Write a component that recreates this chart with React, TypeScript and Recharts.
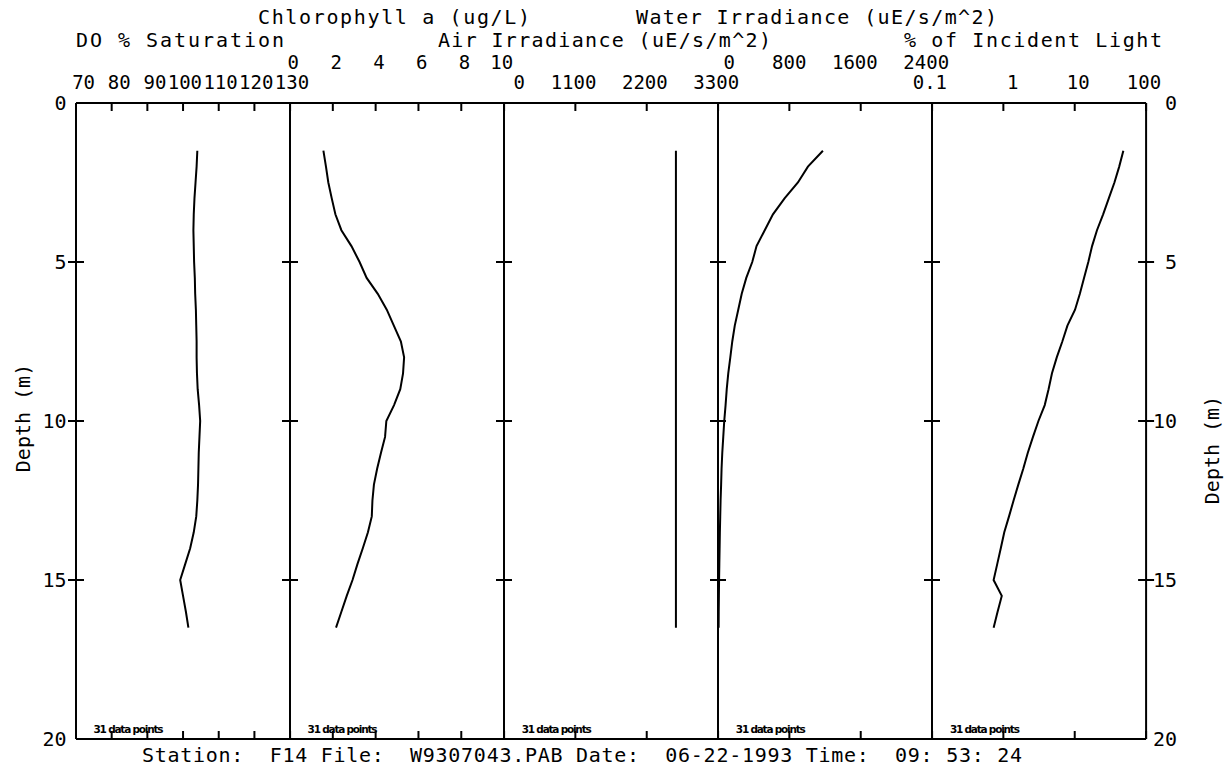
import React from "react";
import { LineChart, Line, XAxis, YAxis } from "recharts";

// profile depths (m), 31 samples
const depths = [1.5, 2, 2.5, 3, 3.5, 4, 4.5, 5, 5.5, 6, 6.5, 7, 7.5, 8, 8.5, 9, 9.5, 10, 10.5, 11, 11.5, 12, 12.5, 13, 13.5, 14, 14.5, 15, 15.5, 16, 16.5];

const doSaturation = [104.0, 103.8, 103.5, 103.2, 103.0, 102.9, 103.0, 103.1, 103.3, 103.4, 103.6, 103.7, 103.8, 103.8, 103.9, 104.1, 104.5, 104.8, 104.6, 104.4, 104.3, 104.2, 104.0, 103.7, 103.0, 102.0, 100.6, 99.2, 100.0, 100.8, 101.5];
const chlorophyll = [1.56, 1.68, 1.79, 1.95, 2.12, 2.4, 2.87, 3.25, 3.58, 4.1, 4.52, 4.85, 5.18, 5.33, 5.28, 5.15, 4.86, 4.5, 4.44, 4.25, 4.07, 3.92, 3.85, 3.82, 3.64, 3.4, 3.15, 2.92, 2.65, 2.4, 2.15];
const airIrradiance = [2650, 2650, 2650, 2650, 2650, 2650, 2650, 2650, 2650, 2650, 2650, 2650, 2650, 2650, 2650, 2650, 2650, 2650, 2650, 2650, 2650, 2650, 2650, 2650, 2650, 2650, 2650, 2650, 2650, 2650, 2650];
const waterIrradiance = [1176, 1008, 896, 746, 616, 524, 432, 384, 317, 266, 227, 188, 160, 138, 115, 98, 85, 70, 59, 48, 40, 35, 29, 25, 21, 18, 15, 12, 10, 8, 7];
const incidentLight = [48, 42, 36, 30, 25, 20.5, 17.5, 15.5, 13.5, 11.8, 10.1, 7.9, 6.7, 5.6, 4.8, 4.3, 3.8, 3.1, 2.6, 2.2, 1.9, 1.62, 1.39, 1.2, 1.03, 0.92, 0.82, 0.73, 0.95, 0.83, 0.73];

const doTicks = [70, 80, 90, 100, 110, 120, 130];
const chlTicks = [0, 2, 4, 6, 8, 10];
const airTicks = [0, 1100, 2200, 3300];
const waterTicks = [0, 800, 1600, 2400];
const lightTicks = [0.1, 1, 10, 100];
const depthTicks = [0, 5, 10, 15, 20];
const innerDepthTicks = [5, 10, 15];

const rows = depths.map((depth, i) => ({
  depth,
  doSat: doSaturation[i],
  chl: chlorophyll[i],
  air: airIrradiance[i],
  water: waterIrradiance[i],
  light: incidentLight[i],
}));

const FONT = "'DejaVu Sans Mono', monospace";
const LEFT = 75.5;
const PW = 214.1;
const H = 765;
const TOP = 103;
const BOTTOM = 26;

const panels = [
  { key: "doSat", ticks: doTicks, scale: "auto", dx: 19, ly: 89 },
  { key: "chl", ticks: chlTicks, scale: "auto", dx: 9, ly: 69 },
  { key: "air", ticks: airTicks, scale: "auto", dx: 21, ly: 89 },
  { key: "water", ticks: waterTicks, scale: "auto", dx: 17, ly: 69 },
  { key: "light", ticks: lightTicks, scale: "log", dx: 15, ly: 89 },
];

const TopTick = (props: any) => {
  const { x, y, payload, dx, ly } = props;
  return (
    <g>
      <line x1={x} y1={y} x2={x} y2={y + 8} stroke="#000" strokeWidth={2} />
      <text x={x + dx} y={ly} textAnchor="end" fontFamily={FONT} fontSize={19} fill="#000">
        {String(payload.value)}
      </text>
    </g>
  );
};

const BottomTick = (props: any) => {
  const { x, y } = props;
  return <line x1={x} y1={y} x2={x} y2={y - 8} stroke="#000" strokeWidth={2} />;
};

const DepthTick = (props: any) => {
  const { x, y, payload, side } = props;
  const v = payload.value;
  const mark = v > 0 && v < 20;
  return (
    <g>
      {mark && <line x1={x - 8} y1={y} x2={x + 8} y2={y} stroke="#000" strokeWidth={2} />}
      {side === "left" && (
        <text x={x - 9.5} y={y + 7.5} textAnchor="end" fontFamily={FONT} fontSize={20} fill="#000">
          {String(v)}
        </text>
      )}
      {side === "right" && (
        <text x={x + 31} y={y + 7} textAnchor="end" fontFamily={FONT} fontSize={20} fill="#000">
          {String(v)}
        </text>
      )}
    </g>
  );
};

function Panel({ index }: { index: number }) {
  const cfg = panels[index];
  const first = index === 0;
  const last = index === panels.length - 1;
  const domain = [cfg.ticks[0], cfg.ticks[cfg.ticks.length - 1]];
  const frame = { stroke: "#000", strokeWidth: 2 };
  // axes need a size of at least 1px to be drawn, so the chart is shifted by that pixel
  return (
    <div style={{ position: "absolute", left: LEFT + index * PW - 1, top: 0 }}>
      <LineChart
        width={PW + 1 + (last ? 1 : 0)}
        height={H}
        data={rows}
        layout="vertical"
        margin={{ top: TOP - 1, right: 0, bottom: BOTTOM - 1, left: 0 }}
      >
        <XAxis
          xAxisId="top"
          orientation="top"
          type="number"
          scale={cfg.scale as any}
          domain={domain}
          ticks={cfg.ticks}
          interval={0}
          height={1}
          tickSize={0}
          tickMargin={0}
          allowDataOverflow
          axisLine={frame}
          tickLine={false}
          tick={(p: any) => <TopTick {...p} dx={cfg.dx} ly={cfg.ly} />}
        />
        <XAxis
          xAxisId="bot"
          orientation="bottom"
          type="number"
          scale={cfg.scale as any}
          domain={domain}
          ticks={cfg.ticks}
          interval={0}
          height={1}
          tickSize={0}
          tickMargin={0}
          allowDataOverflow
          axisLine={frame}
          tickLine={false}
          tick={(p: any) => <BottomTick {...p} />}
        />
        <YAxis
          yAxisId="d"
          type="number"
          dataKey="depth"
          domain={[0, 20]}
          ticks={first ? depthTicks : innerDepthTicks}
          interval={0}
          width={1}
          tickSize={0}
          tickMargin={0}
          allowDataOverflow
          axisLine={frame}
          tickLine={false}
          tick={(p: any) => <DepthTick {...p} side={first ? "left" : "none"} />}
        />
        {last && (
          <YAxis
            yAxisId="r"
            orientation="right"
            type="number"
            dataKey="depth"
            domain={[0, 20]}
            ticks={depthTicks}
            interval={0}
            width={1}
            tickSize={0}
            tickMargin={0}
            allowDataOverflow
            axisLine={frame}
            tickLine={false}
            tick={(p: any) => <DepthTick {...p} side="right" />}
          />
        )}
        <Line
          xAxisId="top"
          yAxisId="d"
          dataKey={cfg.key}
          type="linear"
          stroke="#000"
          strokeWidth={2}
          dot={false}
          isAnimationActive={false}
        />
      </LineChart>
    </div>
  );
}

const txt = { fontFamily: FONT, fontSize: 20, fill: "#000" } as const;

export default function App() {
  return (
    <div style={{ position: "absolute", left: 0, top: 0, width: 1228, height: H, background: "#fff" }}>
      <style>{`.recharts-surface{overflow:visible}`}</style>
      {panels.map((_, i) => (
        <Panel key={i} index={i} />
      ))}
      <svg width={1228} height={H} style={{ position: "absolute", left: 0, top: 0, pointerEvents: "none", overflow: "visible" }}>
        <text x={258} y={24} textLength={272} {...txt}>Chlorophyll a (ug/L)</text>
        <text x={636} y={24} textLength={361} {...txt}>Water Irradiance (uE/s/m^2)</text>
        <text x={76} y={47} textLength={208} {...txt}>DO % Saturation</text>
        <text x={438} y={47} textLength={333} {...txt}>Air Irradiance (uE/s/m^2)</text>
        <text x={904} y={47} textLength={258} {...txt}>% of Incident Light</text>
        <text x={23} y={418} textAnchor="middle" dominantBaseline="central" transform="rotate(-90 23 418)" {...txt}>
          Depth (m)
        </text>
        <text x={1212} y={450} textAnchor="middle" dominantBaseline="central" transform="rotate(-90 1212 450)" {...txt}>
          Depth (m)
        </text>
        {panels.map((_, i) => (
          <text
            key={i}
            x={LEFT + i * PW + 18}
            y={733}
            textLength={70}
            fontFamily="'DejaVu Sans', sans-serif"
            fontWeight="bold"
            fontSize={10.5}
            fill="#000"
          >
            31 data points
          </text>
        ))}
        <text x={142} y={762} textLength={880} style={{ whiteSpace: "pre" }} {...txt}>
          {"Station:  F14 File:  W9307043.PAB Date:  06-22-1993 Time:  09: 53: 24"}
        </text>
      </svg>
    </div>
  );
}
